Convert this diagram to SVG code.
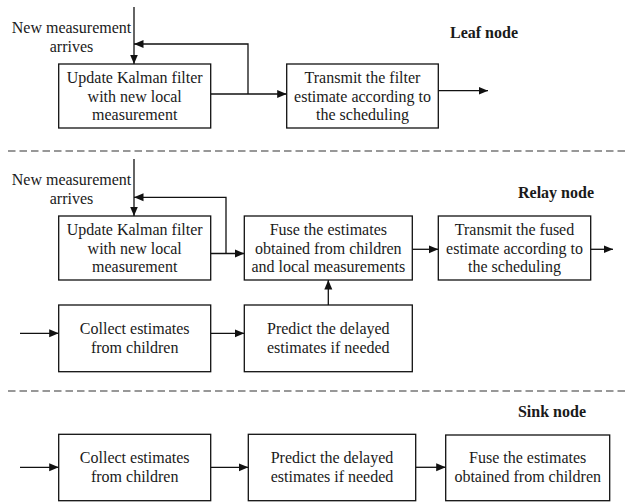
<svg xmlns="http://www.w3.org/2000/svg" width="631" height="503" viewBox="0 0 631 503">
<style>
  .box { fill: #fff; stroke: #111; stroke-width: 1.3; }
  text { font-family: 'Liberation Serif', 'Times New Roman', Tinos, 'DejaVu Serif', serif; font-size: 16px; fill: #1a1a1a; text-anchor: middle; }
  .b { font-weight: bold; }
  .c { fill: none; stroke: #111; stroke-width: 1.3; marker-end: url(#ah); }
  .d { fill: none; stroke: #333; stroke-width: 1.2; stroke-dasharray: 7.5 4; }
</style>
<defs>
  <marker id="ah" markerUnits="userSpaceOnUse" markerWidth="10" markerHeight="9" refX="9.5" refY="4.5" orient="auto">
    <path d="M0,0.5 L9.5,4.5 L0,8.5 Z" fill="#111"/>
  </marker>
</defs>
<rect width="631" height="503" fill="#fff"/>

<g id="separators">
  <line class="d" x1="8" y1="151" x2="626" y2="151"/>
  <line class="d" x1="8" y1="391" x2="626" y2="391"/>
</g>

<g id="connectors">
  <path class="c" d="M134,7 V64"/>
  <path class="c" d="M248,94 V44 H134"/>
  <path class="c" d="M210.7,94 H286.7"/>
  <path class="c" d="M438.3,90.7 H488"/>
  <path class="c" d="M134,159 V216"/>
  <path class="c" d="M226,253.5 V197.3 H134"/>
  <path class="c" d="M210.7,253.5 H244.3"/>
  <path class="c" d="M412.3,249.3 H438.3"/>
  <path class="c" d="M590.7,249.3 H613"/>
  <path class="c" d="M20,333.3 H58.7"/>
  <path class="c" d="M210.7,333.3 H244.3"/>
  <path class="c" d="M328.3,305 V280"/>
  <path class="c" d="M20,467.3 H58.7"/>
  <path class="c" d="M210.7,467.3 H248.3"/>
  <path class="c" d="M415.7,467.3 H445.7"/>
</g>

<g id="labels" font-family="Liberation Serif, serif">
  <text x="71.5" y="33.3">New measurement</text>
  <text x="71.5" y="52.3">arrives</text>
  <text class="b" x="484" y="37.7">Leaf node</text>
  <text x="71.5" y="185">New measurement</text>
  <text x="71.5" y="203.8">arrives</text>
  <text class="b" x="556" y="198.3">Relay node</text>
  <text class="b" x="552" y="417.3">Sink node</text>
</g>

<g id="leaf-update">
  <rect class="box" x="58.7" y="64" width="152" height="64"/>
  <text x="134.7" y="83.3">Update Kalman filter</text>
  <text x="134.7" y="101.7">with new local</text>
  <text x="134.7" y="120">measurement</text>
</g>
<g id="leaf-transmit">
  <rect class="box" x="286.7" y="64" width="151.6" height="64"/>
  <text x="362.5" y="83.3">Transmit the filter</text>
  <text x="362.5" y="101.7">estimate according to</text>
  <text x="362.5" y="120">the scheduling</text>
</g>

<g id="relay-update">
  <rect class="box" x="58.7" y="216" width="152" height="64"/>
  <text x="134.7" y="235.3">Update Kalman filter</text>
  <text x="134.7" y="253.7">with new local</text>
  <text x="134.7" y="272">measurement</text>
</g>
<g id="relay-fuse">
  <rect class="box" x="244.3" y="216" width="168" height="64"/>
  <text x="328.3" y="235.3">Fuse the estimates</text>
  <text x="328.3" y="253.7">obtained from children</text>
  <text x="328.3" y="272">and local measurements</text>
</g>
<g id="relay-transmit">
  <rect class="box" x="438.3" y="216" width="152.4" height="64"/>
  <text x="514.5" y="235.3">Transmit the fused</text>
  <text x="514.5" y="253.7">estimate according to</text>
  <text x="514.5" y="272">the scheduling</text>
</g>
<g id="relay-collect">
  <rect class="box" x="58.7" y="305" width="152" height="66.7"/>
  <text x="134.7" y="334.4">Collect estimates</text>
  <text x="134.7" y="352.8">from children</text>
</g>
<g id="relay-predict">
  <rect class="box" x="244.3" y="305" width="168" height="66.7"/>
  <text x="328.3" y="334.4">Predict the delayed</text>
  <text x="328.3" y="352.8">estimates if needed</text>
</g>

<g id="sink-collect">
  <rect class="box" x="58.7" y="434.3" width="152" height="66.4"/>
  <text x="134.7" y="463.4">Collect estimates</text>
  <text x="134.7" y="481.8">from children</text>
</g>
<g id="sink-predict">
  <rect class="box" x="248.3" y="434.3" width="167.4" height="66.4"/>
  <text x="332" y="463.4">Predict the delayed</text>
  <text x="332" y="481.8">estimates if needed</text>
</g>
<g id="sink-fuse">
  <rect class="box" x="445.7" y="435" width="164" height="65.7"/>
  <text x="527.7" y="463.4">Fuse the estimates</text>
  <text x="527.7" y="481.8">obtained from children</text>
</g>
</svg>
